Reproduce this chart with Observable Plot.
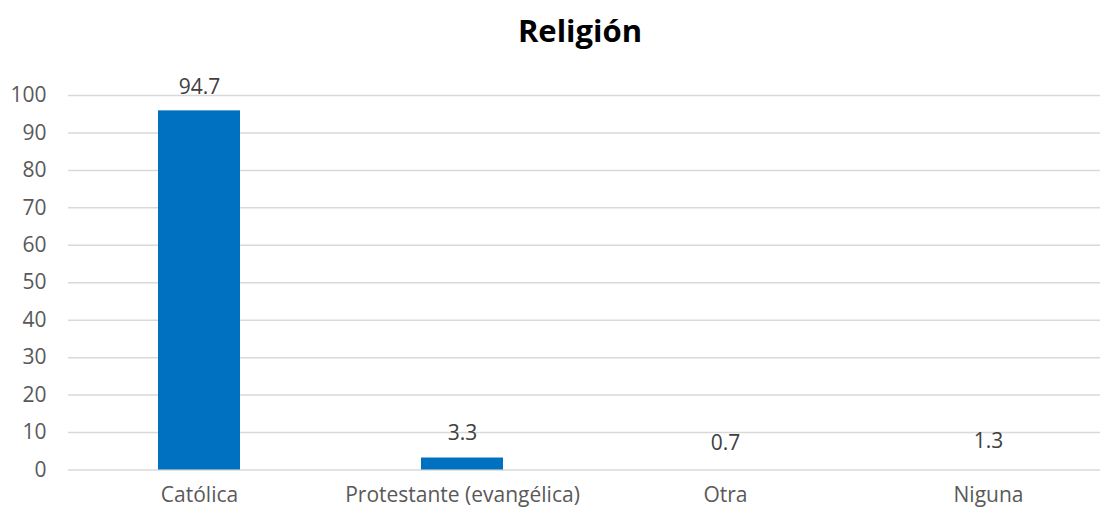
<!DOCTYPE html>
<html>
<head>
<meta charset="utf-8">
<script src="https://cdn.jsdelivr.net/npm/d3@7"></script>
<script src="https://cdn.jsdelivr.net/npm/@observablehq/plot@0.6"></script>
<style>
  body { margin: 0; background: #fff; font-family: "Open Sans", sans-serif; }
  #title { height: 62px; line-height: 60px; text-align: center; font-weight: bold; font-size: 31px; color: #000; padding-left: 54px; box-sizing: border-box; }
</style>
</head>
<body>
<div id="title">Religión</div>
<div id="chart"></div>
<script>
const categories = ["Católica", "Protestante (evangélica)", "Otra", "Niguna"];
const barValues = [95.9, 3.2, 0, 0];
const labelValues = [94.7, 3.3, 0.7, 1.3];
const yTicks = [0, 10, 20, 30, 40, 50, 60, 70, 80, 90, 100];

const data = categories.map((c, i) => ({
  cat: c, bar: barValues[i], label: labelValues[i],
  pos: Math.max(barValues[i], labelValues[i])
}));

const chart = Plot.plot({
  width: 1106,
  height: 450,
  marginTop: 33,
  marginBottom: 42.5,
  marginLeft: 68,
  marginRight: 6,
  style: { fontFamily: "Open Sans, sans-serif", fontSize: "21px", color: "#595959", background: "#fff" },
  x: { domain: categories, range: [67.5, 1119.5], padding: 0.688, paddingOuter: 0.344, label: null, tickSize: 0, tickPadding: 17 },
  y: { domain: [0, 100], ticks: yTicks, label: null, tickSize: 0, tickPadding: 22, tickFormat: d => String(d) },
  marks: [
    Plot.ruleY(yTicks, { stroke: "#d9d9d9", strokeWidth: 1.5 }),
    Plot.barY(data, { x: "cat", y: "bar", fill: "#0070C0" }),
    Plot.text(data, { x: "cat", y: "pos", text: d => d.label.toFixed(1), dy: -24, fill: "#404040", fontSize: 21 })
  ]
});
document.getElementById("chart").appendChild(chart);
</script>
</body>
</html>
